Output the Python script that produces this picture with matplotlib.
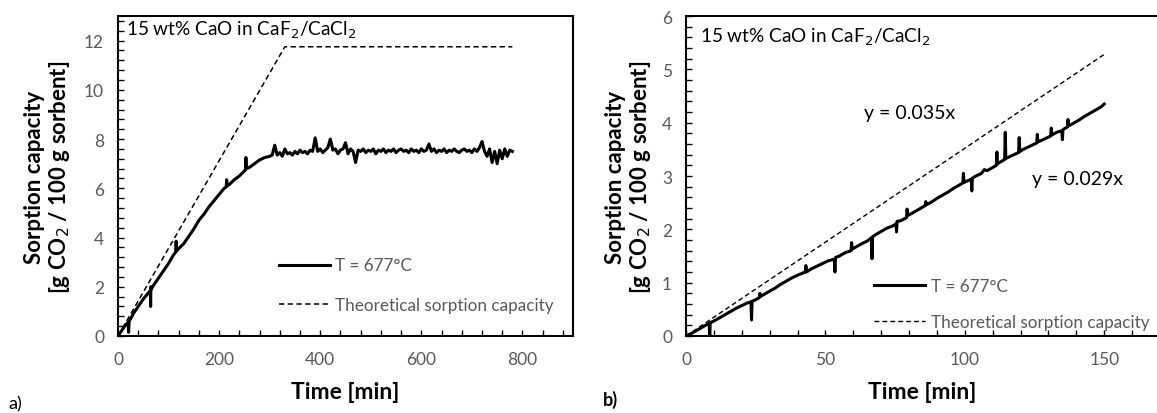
import matplotlib
matplotlib.use('Agg')
import matplotlib.pyplot as plt

plt.rcParams['font.family'] = ['Lato', 'DejaVu Sans']
GRAY = '#595959'

# ---- panel a) : full run, 0-780 min ----
a_time = [0, 5, 10, 15, 20, 21, 22, 25, 30, 40, 50, 60, 64, 64.5, 65, 65.5, 70, 80, 90,
          100, 110, 114, 115, 116, 120, 130, 140, 150, 160, 170, 180, 190, 200, 210,
          214, 215, 216, 220, 230, 240, 250, 252, 253, 254, 260, 270, 280, 290, 300,
          305, 310, 315, 320, 325, 330, 335, 340, 345, 350, 355, 360, 365, 370, 375,
          380, 385, 390, 395, 400, 405, 410, 415, 420, 425, 430, 435, 440, 445, 450,
          455, 460, 465, 470, 475, 480, 485, 490, 495, 500, 505, 510, 515, 520, 525,
          530, 535, 540, 545, 550, 555, 560, 565, 570, 575, 580, 585, 590, 595, 600,
          605, 610, 615, 620, 625, 630, 635, 640, 645, 650, 655, 660, 665, 670, 675,
          680, 685, 690, 695, 700, 705, 710, 715, 720, 725, 730, 735, 740, 745, 750,
          755, 760, 765, 770, 775, 780]
a_meas = [0.0, 0.15, 0.3, 0.45, 0.55, 0.15, 0.6, 0.7, 0.9, 1.2, 1.5, 1.75, 1.85, 1.2, 2.0, 1.9, 2.05, 2.35, 2.65,
          2.95, 3.3, 3.4, 3.85, 3.45, 3.55, 3.75, 4.05, 4.35, 4.7, 4.95, 5.25, 5.5, 5.75, 6.0,
          6.05, 6.35, 6.1, 6.15, 6.35, 6.5, 6.7, 6.75, 7.25, 6.8, 6.85, 7.0, 7.15, 7.25, 7.3,
          7.35, 7.75, 7.35, 7.45, 7.3, 7.6, 7.4, 7.45, 7.35, 7.5, 7.4, 7.55, 7.45, 7.5, 7.4,
          7.55, 7.5, 8.05, 7.5, 7.6, 7.45, 7.55, 7.65, 8.0, 7.55, 7.6, 7.4, 7.55, 7.6, 7.85,
          7.4, 7.6, 7.5, 7.05, 7.55, 7.5, 7.6, 7.45, 7.55, 7.5, 7.6, 7.4, 7.55, 7.5, 7.6,
          7.45, 7.55, 7.5, 7.6, 7.45, 7.55, 7.6, 7.5, 7.55, 7.45, 7.6, 7.5, 7.55, 7.45, 7.6,
          7.5, 7.55, 7.8, 7.5, 7.6, 7.45, 7.55, 7.5, 7.6, 7.45, 7.55, 7.5, 7.6, 7.5, 7.45,
          7.55, 7.6, 7.5, 7.55, 7.45, 7.6, 7.5, 7.65, 7.9, 7.5, 7.3, 7.6, 7.05, 7.5, 7.0,
          7.55, 7.2, 7.6, 7.3, 7.55, 7.5]
a_theo_time = [0, 330, 780]
a_theo = [0.0, 11.75, 11.75]

# ---- panel b) : first 150 min ----
b_time = [0, 2, 4, 6, 8.3, 8.5, 8.7, 10, 12, 14, 16, 18, 20, 22, 23.3, 23.5, 23.7, 25,
          26.3, 26.5, 26.7, 28, 30, 32, 34, 36, 38, 40, 42.8, 43, 43.2, 45, 47, 49, 51,
          53.2, 53.4, 53.6, 55, 57, 59.2, 59.4, 59.6, 61, 63, 65, 66.5, 66.7, 66.9, 68,
          70, 72, 74, 75.3, 75.5, 75.7, 77, 79.1, 79.3, 79.5, 81, 83, 85, 85.8, 86, 86.2,
          88, 90, 92, 94, 96, 98, 99.3, 99.5, 99.7, 101, 102.3, 102.5, 102.7, 104, 106,
          107, 108, 110, 111.3, 111.5, 111.7, 113, 114.3, 114.5, 114.7, 116, 118, 119.3,
          119.5, 119.7, 121, 123, 125, 125.8, 126, 126.2, 128, 130, 130.8, 131, 131.2,
          133, 134.8, 135, 135.2, 136.8, 137, 137.2, 139, 141, 143, 145, 147, 149, 150]
b_meas = [0.0, 0.05, 0.11, 0.17, 0.24, 0.0, 0.25, 0.28, 0.34, 0.4, 0.46, 0.52, 0.57, 0.62, 0.64, 0.3, 0.65, 0.68,
          0.72, 0.8, 0.74, 0.78, 0.84, 0.9, 0.97, 1.03, 1.09, 1.14, 1.2, 1.32, 1.2, 1.26, 1.31, 1.36, 1.41,
          1.44, 1.2, 1.47, 1.5, 1.56, 1.6, 1.75, 1.63, 1.67, 1.73, 1.78, 1.84, 1.45, 1.86, 1.9,
          1.96, 2.02, 2.06, 2.1, 1.95, 2.15, 2.16, 2.22, 2.38, 2.26, 2.3, 2.36, 2.42, 2.45, 2.52, 2.46,
          2.51, 2.58, 2.64, 2.7, 2.77, 2.83, 2.87, 3.05, 2.88, 2.91, 2.94, 2.72, 2.96, 3.0, 3.05,
          3.12, 3.1, 3.16, 3.2, 3.45, 3.23, 3.27, 3.31, 3.82, 3.33, 3.36, 3.41, 3.44,
          3.72, 3.46, 3.5, 3.55, 3.6, 3.62, 3.78, 3.64, 3.68, 3.73, 3.75, 3.9, 3.77,
          3.82, 3.85, 3.68, 3.87, 3.92, 4.06, 3.94, 3.99, 4.05, 4.12, 4.18, 4.24, 4.3, 4.35]
b_theo_time = [0, 150]
b_theo = [0.0, 5.28]

legend_labels = ['T = 677°C', 'Theoretical sorption capacity']
title_text = '15 wt% CaO in CaF$_2$/CaCl$_2$'
ylabel_text = 'Sorption capacity\n[g CO$_2$ / 100 g sorbent]'

W, H = 1157, 414
fig = plt.figure(figsize=(W / 100, H / 100), dpi=100)


def style_axes(ax):
    for s in ax.spines.values():
        s.set_linewidth(1.5)
        s.set_color('black')
    ax.tick_params(which='both', direction='in', length=4.5, width=1.0,
                   colors='black', labelcolor=GRAY, labelsize=12.5)
    ax.tick_params(axis='x', which='both', pad=11)
    ax.tick_params(axis='y', which='both', pad=10)
    ax.tick_params(which='both', top=False, right=False)


# panel a
ax1 = fig.add_axes([118 / W, 77 / H, 455 / W, 320 / H])
ax1.plot(a_time, a_meas, color='black', lw=2.2, label=legend_labels[0])
ax1.plot(a_theo_time, a_theo, color='black', lw=1.1, dashes=(3.5, 2.2), label=legend_labels[1])
ax1.set_xlim(0, 900)
ax1.set_ylim(0, 13)
ax1.set_xticks([0, 200, 400, 600, 800])
ax1.set_xticks(range(0, 900, 40), minor=True)
ax1.set_yticks([0, 2, 4, 6, 8, 10, 12])
ax1.set_yticks([i * 0.4 for i in range(33)], minor=True)
style_axes(ax1)
ax1.text(0.018, 0.99, title_text, transform=ax1.transAxes, fontsize=13.7,
         ha='left', va='top')
ax1.text(0.5, -0.175, 'Time [min]', transform=ax1.transAxes, fontsize=16.5,
         fontweight='bold', ha='center', va='center')
fig.text(48 / W, 1 - 177 / H, ylabel_text, rotation=90, fontsize=16,
         fontweight='bold', ha='center', va='center', multialignment='center',
         linespacing=1.1)
leg1 = ax1.legend(loc='center left', bbox_to_anchor=(0.354, 0.158), frameon=False,
                  fontsize=12.3, handlelength=3.0, handletextpad=0.3, labelspacing=1.4,
                  borderpad=0, borderaxespad=0)
for t in leg1.get_texts():
    t.set_color(GRAY)

# panel b
ax2 = fig.add_axes([686 / W, 77 / H, 474 / W, 320 / H])
ax2.plot(b_time, b_meas, color='black', lw=2.2, label=legend_labels[0])
ax2.plot(b_theo_time, b_theo, color='black', lw=1.0, dashes=(3.5, 2.2), label=legend_labels[1])
ax2.set_xlim(0, 170)
ax2.set_ylim(0, 6)
ax2.set_xticks([0, 50, 100, 150])
ax2.set_xticks(range(0, 171, 10), minor=True)
ax2.set_yticks([0, 1, 2, 3, 4, 5, 6])
ax2.set_yticks([i * 0.2 for i in range(31)], minor=True)
style_axes(ax2)
ax2.text(0.03, 0.97, title_text, transform=ax2.transAxes, fontsize=13.7,
         ha='left', va='top')
ax2.text(64, 4.2, 'y = 0.035x', fontsize=14, ha='left', va='center')
ax2.text(124, 2.95, 'y = 0.029x', fontsize=14, ha='left', va='center')
ax2.text(0.498, -0.175, 'Time [min]', transform=ax2.transAxes, fontsize=16.5,
         fontweight='bold', ha='center', va='center')
fig.text(629 / W, 1 - 177 / H, ylabel_text, rotation=90, fontsize=16,
         fontweight='bold', ha='center', va='center', multialignment='center',
         linespacing=1.1)
leg2 = ax2.legend(loc='center left', bbox_to_anchor=(0.397, 0.10), frameon=False,
                  fontsize=12.3, handlelength=3.0, handletextpad=0.3, labelspacing=1.15,
                  borderpad=0, borderaxespad=0)
for t in leg2.get_texts():
    t.set_color(GRAY)

fig.text(8 / W, 1 - 404 / H, 'a)', fontsize=13, ha='left', va='center')
fig.text(603 / W, 1 - 400 / H, 'b)', fontsize=13, fontweight='bold', ha='left', va='center')

fig.savefig('out.png', dpi=100)
